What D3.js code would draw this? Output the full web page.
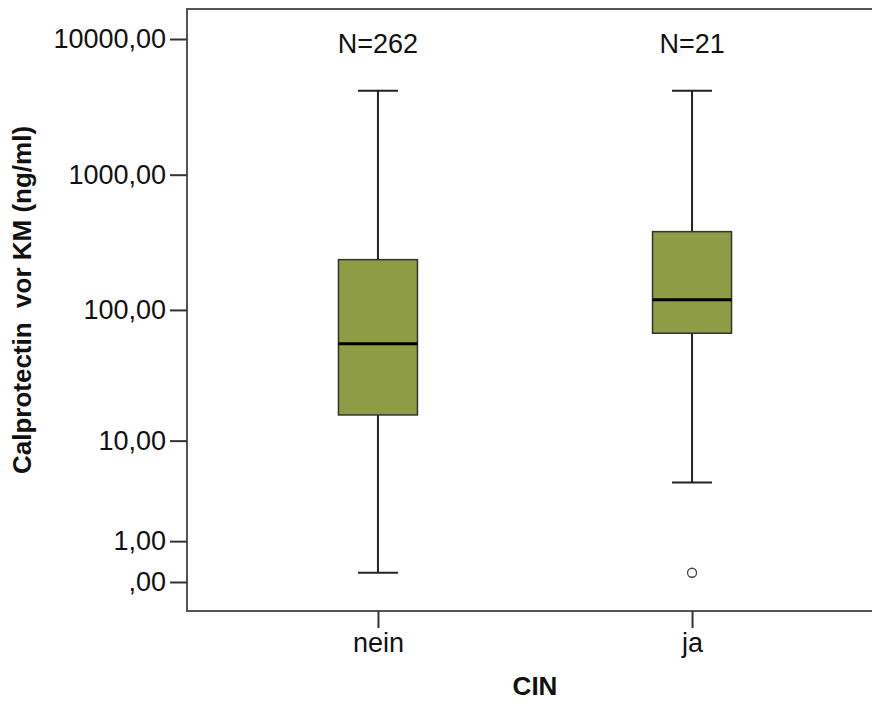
<!DOCTYPE html>
<html>
<head>
<meta charset="utf-8">
<script src="https://cdn.jsdelivr.net/npm/d3@7"></script>
<style>
  body { margin: 0; background: #fff; }
  svg { font-family: "Liberation Sans", Arial, sans-serif; }
</style>
</head>
<body>
<div id="chart"></div>
<script>
// groups and five-number summaries
var groups = ['nein', 'ja'];
var counts = [262, 21];
var whiskerLow = [0.17, 4.4];
var q1 = [16, 67];
var median = [56, 119];
var q3 = [236, 380];
var whiskerHigh = [4150, 4150];
var outliers = [[], [0.17]];
var yTicks = [0, 1, 10, 100, 1000, 10000];

const width = 872, height = 704;
const frame = {left: 187, top: 9, right: 883, bottom: 611};

var svg = d3.select('#chart').append('svg')
    .attr('width', width)
    .attr('height', height);

// log(x+1) style axis like SPSS, symlog with constant 1 does that
var y = d3.scaleSymlog()
    .constant(1)
    .domain([0, 10000])
    .range([582, 39]);

var x = d3.scalePoint()
    .domain(groups)
    .range([frame.left, frame.right])
    .padding(0.608);

var boxW = 79, capW = 40;
var fill = '#8e9c46';

var data = groups.map(function(g, i) {
    return {
        group: g, n: counts[i], lo: whiskerLow[i], q1: q1[i], med: median[i],
        q3: q3[i], hi: whiskerHigh[i], out: outliers[i]
    };
});

// frame
svg.append('rect')
    .attr('x', frame.left)
    .attr('y', frame.top)
    .attr('width', frame.right - frame.left)
    .attr('height', frame.bottom - frame.top)
    .attr('fill', 'none')
    .attr('stroke', '#555')
    .attr('stroke-width', 2);

var g = svg.selectAll('.box')
    .data(data)
    .enter().append('g')
    .attr('class', 'box')
    .attr('transform', function(d) { return 'translate(' + x(d.group) + ',0)'; });

// whiskers
g.append('line')
    .attr('x1', 0).attr('x2', 0)
    .attr('y1', function(d) { return y(d.hi); })
    .attr('y2', function(d) { return y(d.q3); })
    .attr('stroke', '#222').attr('stroke-width', 2);
g.append('line')
    .attr('x1', 0).attr('x2', 0)
    .attr('y1', function(d) { return y(d.q1); })
    .attr('y2', function(d) { return y(d.lo); })
    .attr('stroke', '#222').attr('stroke-width', 2);
g.append('line')
    .attr('x1', -capW / 2).attr('x2', capW / 2)
    .attr('y1', function(d) { return y(d.hi); })
    .attr('y2', function(d) { return y(d.hi); })
    .attr('stroke', '#222').attr('stroke-width', 2);
g.append('line')
    .attr('x1', -capW / 2).attr('x2', capW / 2)
    .attr('y1', function(d) { return y(d.lo); })
    .attr('y2', function(d) { return y(d.lo); })
    .attr('stroke', '#222').attr('stroke-width', 2);

// box
g.append('rect')
    .attr('x', -boxW / 2)
    .attr('width', boxW)
    .attr('y', function(d) { return y(d.q3); })
    .attr('height', function(d) { return y(d.q1) - y(d.q3); })
    .attr('fill', fill)
    .attr('stroke', '#333')
    .attr('stroke-width', 1.5);

// median
g.append('line')
    .attr('x1', -boxW / 2).attr('x2', boxW / 2)
    .attr('y1', function(d) { return y(d.med); })
    .attr('y2', function(d) { return y(d.med); })
    .attr('stroke', '#000').attr('stroke-width', 3);

// outliers
g.selectAll('.out')
    .data(function(d) { return d.out; })
    .enter().append('circle')
    .attr('class', 'out')
    .attr('cx', 0)
    .attr('cy', function(d) { return y(d); })
    .attr('r', 4.5)
    .attr('fill', '#fff')
    .attr('stroke', '#444')
    .attr('stroke-width', 1.3);

// N labels
g.append('text')
    .attr('y', 53)
    .attr('text-anchor', 'middle')
    .attr('font-size', 27)
    .attr('fill', '#111')
    .text(function(d) { return 'N=' + d.n; });

// axes
var yAxis = d3.axisLeft(y)
    .tickValues(yTicks)
    .tickSize(17)
    .tickPadding(4)
    .tickFormat(function(d) { return d === 0 ? ',00' : d + ',00'; });

svg.append('g')
    .attr('class', 'y-axis')
    .attr('transform', 'translate(' + frame.left + ',0)')
    .call(yAxis)
    .call(function(a) { a.select('.domain').remove(); })
    .call(function(a) {
        a.selectAll('line').attr('stroke', '#333').attr('stroke-width', 2);
        a.selectAll('text').attr('font-size', 27).attr('fill', '#111')
            .style('font-family', '"Liberation Sans", Arial, sans-serif');
    });

var xAxis = d3.axisBottom(x)
    .tickSize(17)
    .tickPadding(5);

svg.append('g')
    .attr('class', 'x-axis')
    .attr('transform', 'translate(0,' + frame.bottom + ')')
    .call(xAxis)
    .call(function(a) { a.select('.domain').remove(); })
    .call(function(a) {
        a.selectAll('line').attr('stroke', '#333').attr('stroke-width', 2);
        a.selectAll('text').attr('font-size', 27).attr('fill', '#111')
            .style('font-family', '"Liberation Sans", Arial, sans-serif');
    });

// titles
svg.append('text')
    .attr('transform', 'translate(31,300) rotate(-90)')
    .attr('text-anchor', 'middle')
    .attr('font-size', 26)
    .attr('font-weight', 'bold')
    .attr('fill', '#111')
    .text('Calprotectin\u00a0 vor KM (ng/ml)');

svg.append('text')
    .attr('x', (frame.left + frame.right) / 2)
    .attr('y', 695)
    .attr('text-anchor', 'middle')
    .attr('font-size', 26)
    .attr('font-weight', 'bold')
    .attr('fill', '#111')
    .text('CIN');
</script>
</body>
</html>
